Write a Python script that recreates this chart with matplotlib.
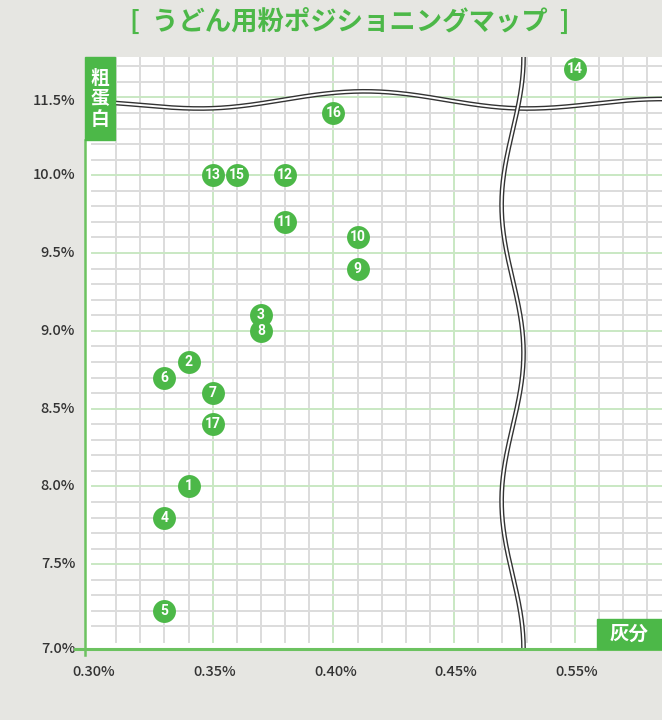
import numpy as np
import matplotlib
matplotlib.use("Agg")
import matplotlib.pyplot as plt
from matplotlib.patches import Rectangle
import matplotlib.transforms as mtrans

plt.rcParams['font.family'] = ['Noto Sans CJK JP', 'DejaVu Sans']

# data: flour number, ash (%), crude protein (%)
flour_no = [1, 2, 3, 4, 5, 6, 7, 8, 9, 10, 11, 12, 13, 14, 15, 16, 17]
ash = [0.34, 0.34, 0.37, 0.33, 0.33, 0.33, 0.35, 0.37, 0.41, 0.41,
       0.38, 0.38, 0.35, 0.55, 0.36, 0.40, 0.35]
protein = [8.0, 8.8, 9.1, 7.8, 7.2, 8.7, 8.6, 9.0, 9.4, 9.6,
           9.7, 10.0, 10.0, 11.7, 10.0, 10.4, 8.4]

x_ticks = [0.30, 0.35, 0.40, 0.45, 0.55]
x_labels = ["0.30%", "0.35%", "0.40%", "0.45%", "0.55%"]
y_ticks = [7.0, 7.5, 8.0, 8.5, 9.0, 9.5, 10.0, 11.5]
y_labels = ["7.0%", "7.5%", "8.0%", "8.5%", "9.0%", "9.5%", "10.0%", "11.5%"]

title = "[  うどん用粉ポジショニングマップ  ]"
x_name = "灰分"
y_name = "粗蛋白"

GREEN = "#4cb848"
AXIS_GREEN = "#6cc260"
BG = "#e6e6e2"


# broken axes: 0.50% and 10.5-11.5% are cut out
def bx(v):
    return v if v < 0.5 else v - 0.05


def by(v):
    return v if v < 11.0 else v - 1.02


def cos_interp(x, kx, ky):
    # smooth curve through knots, flat at every knot
    out = np.empty_like(x)
    for i in range(len(kx) - 1):
        m = (x >= kx[i]) & (x <= kx[i + 1])
        t = (x[m] - kx[i]) / (kx[i + 1] - kx[i])
        w = (1 - np.cos(np.pi * t)) / 2
        out[m] = ky[i] + (ky[i + 1] - ky[i]) * w
    return out


fig = plt.figure(figsize=(6.62, 7.20), dpi=100)
fig.patch.set_facecolor(BG)
ax = fig.add_axes([85 / 662, 71 / 720, 577 / 662, 592 / 720])
ax.set_facecolor("white")
ax.set_xlim(0.2971, 0.5361)
ax.set_ylim(6.955, 10.76)
for s in ax.spines.values():
    s.set_visible(False)
ax.set_xticks([])
ax.set_yticks([])

# grid
for i in range(31, 54):
    v = i / 100
    col = "#c9e8c3" if i % 5 == 0 else "#dcdcdc"
    ax.plot([v, v], [7.0, 10.76], color=col, lw=1.4, zorder=1)
for i in range(71, 108):
    v = i / 10
    col = "#c9e8c3" if i % 5 == 0 else "#dcdcdc"
    ax.plot([0.30, 0.5361], [v, v], color=col, lw=1.4, zorder=1)

# break lines (double lines), drawn in axes fraction
ta = ax.transAxes
hx = np.linspace(0, 1, 400)
hy = cos_interp(hx, [0, 0.20, 0.485, 0.765, 1.0], [0.924, 0.913, 0.942, 0.913, 0.929])
ax.plot(hx, hy, color="#333333", lw=3.4, transform=ta, zorder=3, solid_capstyle='butt')
ax.plot(hx, hy, color="white", lw=1.4, transform=ta, zorder=3, solid_capstyle='butt')
vy = np.linspace(0, 1, 400)
vx = 0.741 + 0.019 * np.cos(2 * np.pi * (1 - vy) / 0.5)
ax.plot(vx, vy, color="#333333", lw=3.4, transform=ta, zorder=4, solid_capstyle='butt')
ax.plot(vx, vy, color="white", lw=1.4, transform=ta, zorder=4, solid_capstyle='butt')

# points
px = [bx(v) for v in ash]
py = [by(v) for v in protein]
ax.scatter(px, py, s=16.5 ** 2, color=GREEN, zorder=5, linewidths=0)
for n, a, b in zip(flour_no, px, py):
    ax.text(a, b, str(n), color="white", fontsize=10, fontweight="bold",
            family=["Roboto", "DejaVu Sans"], ha="center", va="center", zorder=6)

# axis lines
ax.plot([0, 0], [-0.010, 0.86], color=AXIS_GREEN, lw=1.8, transform=ta, clip_on=False, zorder=7)
ax.plot([-0.017, 1.0], [0, 0], color=AXIS_GREEN, lw=2.2, transform=ta, clip_on=False, zorder=7)

# tick labels
bl_y = mtrans.blended_transform_factory(ta, ax.transData)
for t, lab in zip(y_ticks, y_labels):
    yy = by(t)
    if t == y_ticks[0]:
        yy = 6.955  # bottom label sits on the axis line
    ax.text(-0.017, yy, lab, transform=bl_y, ha="right", va="center",
            fontsize=10.5, color="#333333", fontweight="medium", clip_on=False)
bl_x = mtrans.blended_transform_factory(ax.transData, ta)
for t, lab in zip(x_ticks, x_labels):
    ax.text(bx(t) + 0.0008, -0.039, lab, transform=bl_x, ha="center", va="center",
            fontsize=10.5, color="#333333", fontweight="medium", clip_on=False)

# axis name boxes
ax.add_patch(Rectangle((0, 0.86), 0.052, 0.14, transform=ta, color=GREEN, zorder=8, clip_on=False))
for ch, fy in zip(y_name, [0.9645, 0.929, 0.8936]):
    ax.text(0.026, fy, ch, transform=ta, ha="center", va="center", color="white",
            fontsize=13.5, fontweight="bold", zorder=9)
ax.add_patch(Rectangle((0.887, 0), 0.113, 0.0507, transform=ta, color=GREEN, zorder=8, clip_on=False))
ax.text(0.9435, 0.0253, x_name, transform=ta, ha="center", va="center", color="white",
        fontsize=14, fontweight="bold", zorder=9)

fig.text(350 / 662, 1 - 22 / 720, title, ha="center", va="center", color=GREEN,
         fontsize=19, fontweight="bold")

fig.savefig("out.png", dpi=100, facecolor=BG)
